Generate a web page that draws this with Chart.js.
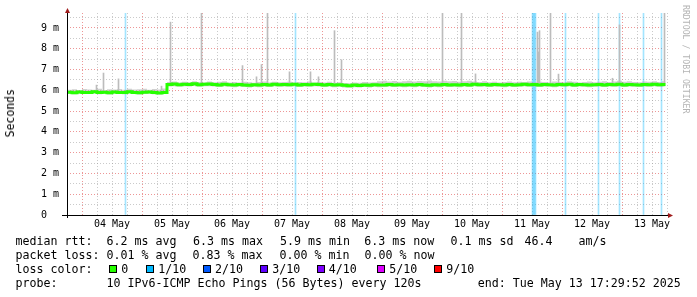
<!DOCTYPE html>
<html><head><meta charset="utf-8">
<script src="https://cdn.jsdelivr.net/npm/chart.js@4.4.1/dist/chart.umd.min.js"></script>
<style>
html,body{margin:0;padding:0;background:#fff;}
#wrap{position:relative;width:697px;height:297px;overflow:hidden;background:#fff;}
#c{position:absolute;left:0;top:0;}
.t{position:absolute;font-family:'DejaVu Sans Mono',monospace;font-size:11.63px;line-height:14px;white-space:pre;color:#000;}
.sq{position:absolute;width:8px;height:8px;box-sizing:border-box;border:1px solid #000;top:265px;}
#rrd{position:absolute;left:681px;top:5px;writing-mode:vertical-rl;font-family:'DejaVu Sans Mono',monospace;font-size:8.2px;line-height:10px;color:#b4b4b4;white-space:pre;}
#ytitle{position:absolute;left:4px;top:89px;writing-mode:vertical-rl;transform:rotate(180deg);font-family:'DejaVu Sans Mono',monospace;font-size:11.5px;line-height:13px;white-space:pre;color:#000;}
</style></head><body>
<div id="wrap">
<canvas id="c" width="697" height="297"></canvas>
<div id="ytitle">Seconds</div>
<div id="rrd">RRDTOOL / TOBI OETIKER</div>
<div id="legend"></div>
</div>
<script>
// hours relative to 04 May 00:00
const DAY_LABELS = ['04 May','05 May','06 May','07 May','08 May','09 May','10 May','11 May','12 May','13 May'];
const Y_LABELS = ['0','1 m','2 m','3 m','4 m','5 m','6 m','7 m','8 m','9 m'];

// median rtt (ms), one value every 2 hours from 03 May 18:00
const MEDIAN = [
 5.91,5.88,5.92,5.89,5.90,5.93,5.89,5.91,5.88,5.92,5.90,5.89,5.93,5.90,5.88,5.91,5.92,5.89,5.87,5.89,
 6.28,6.30,6.27,6.29,6.28,6.31,6.27,6.29,6.30,6.28,6.26,6.29,6.27,6.25,6.28,6.26,6.24,6.27,6.25,6.28,6.26,6.29,6.27,6.28,
 6.27,6.29,6.26,6.28,6.27,6.29,6.28,6.26,6.28,6.25,6.27,6.24,6.22,6.25,6.23,6.26,6.24,6.27,6.25,6.26,6.28,6.26,6.27,6.25,
 6.27,6.25,6.28,6.26,6.24,6.27,6.25,6.28,6.26,6.27,6.25,6.28,6.26,6.29,6.27,6.28,6.26,6.28,6.27,6.25,6.28,6.26,6.27,6.29,
 6.27,6.28,6.26,6.28,6.27,6.25,6.28,6.27,6.29,6.26,6.28,6.27,6.25,6.27,6.28,6.26,6.28,6.27,6.29,6.26,6.28,6.27,6.26,6.28,6.27,6.29,6.27,6.28,6.28
];
const SMOKE_HI = [
 6.03,6.05,6.02,6.06,6.04,6.03,6.07,6.02,6.05,6.04,6.06,6.03,6.08,6.04,6.05,6.07,6.03,6.06,6.04,6.09,
 6.40,6.42,6.38,6.41,6.39,6.43,6.40,6.38,6.42,6.39,6.41,6.44,6.38,6.40,6.37,6.41,6.39,6.36,6.40,6.42,6.38,6.41,6.39,6.40,
 6.41,6.38,6.40,6.39,6.42,6.37,6.40,6.38,6.41,6.36,6.39,6.35,6.34,6.38,6.36,6.40,6.37,6.39,6.44,6.46,6.42,6.45,6.41,6.44,
 6.46,6.42,6.45,6.43,6.47,6.44,6.42,6.46,6.43,6.45,6.41,6.44,6.46,6.42,6.40,6.43,6.39,6.41,6.38,6.40,6.42,6.39,6.41,6.40,
 6.42,6.39,6.41,6.40,6.38,6.42,6.40,6.39,6.43,6.41,6.38,6.40,6.42,6.39,6.41,6.44,6.40,6.42,6.46,6.41,6.43,6.40,6.39,6.42,6.41,6.44,6.40,6.43,6.42
];
const SMOKE_LO = [
 5.83,5.81,5.84,5.82,5.83,5.85,5.81,5.83,5.80,5.84,5.82,5.81,5.85,5.83,5.80,5.82,5.84,5.81,5.80,5.82,
 6.18,6.20,6.17,6.19,6.18,6.21,6.17,6.19,6.20,6.18,6.16,6.19,6.17,6.15,6.18,6.16,6.14,6.17,6.15,6.18,6.16,6.19,6.17,6.18,
 6.17,6.19,6.16,6.18,6.17,6.19,6.18,6.16,6.18,6.15,6.17,6.14,6.12,6.15,6.13,6.16,6.14,6.17,6.15,6.16,6.18,6.16,6.17,6.15,
 6.17,6.15,6.18,6.16,6.14,6.17,6.15,6.18,6.16,6.17,6.15,6.18,6.16,6.19,6.17,6.18,6.16,6.18,6.17,6.15,6.18,6.16,6.17,6.19,
 6.17,6.18,6.16,6.18,6.17,6.15,6.18,6.17,6.19,6.16,6.18,6.17,6.15,6.17,6.18,6.16,6.18,6.17,6.19,6.16,6.18,6.17,6.16,6.18,6.17,6.19,6.17,6.18,6.18
];
// single-ping outliers (smoke spikes)
const SPIKE_HOURS = [5.8,8.6,14.6,31.8,35.4,47.8,64.2,69.8,71.8,74.2,83.0,91.4,94.6,101.0,103.8,144.2,151.8,157.4,182.2,182.6,183.0,187.4,190.6,212.2,215.0,233.0];
const SPIKE_TOPS  = [6.25,6.83,6.55,6.20,9.28,12.0,7.19,6.65,7.24,12.0,6.89,6.89,6.65,8.87,7.47,12.0,12.0,6.79,8.80,7.85,8.87,12.0,6.78,6.58,9.15,12.0];
const SPIKE_BASES = [6.00,6.00,6.00,6.00,6.35,6.35,6.35,6.35,6.35,6.35,6.35,6.35,6.35,6.35,6.35,6.35,6.35,6.35,6.35,6.35,6.35,6.35,6.35,6.35,6.35,6.35];
// intervals with 1/10 packet loss
const LOSS_HOURS = [17.4,85.4,180.2,180.6,181.0,181.4,193.4,206.6,215.0,224.6,231.8];
const Y_MAX = 9.72;

const HOURS = MEDIAN.map((_, i) => Math.min(-6 + 2 * i, 233.4));
const pts = arr => arr.map((v, i) => ({x: HOURS[i], y: v}));

const RED = 'rgba(225,80,80,0.6)';
const GRAY = 'rgba(150,150,150,0.5)';

const axesPlugin = {
  id: 'rrdAxes',
  afterDraw(chart) {
    const {ctx, chartArea: a} = chart;
    ctx.save();
    ctx.strokeStyle = '#000'; ctx.lineWidth = 1;
    ctx.beginPath();
    ctx.moveTo(a.left + 0.5, a.top - 2); ctx.lineTo(a.left + 0.5, a.bottom + 3);
    ctx.moveTo(a.left - 5, a.bottom + 0.5); ctx.lineTo(a.right + 2, a.bottom + 0.5);
    ctx.stroke();
    ctx.fillStyle = '#a01c1c';
    ctx.beginPath(); ctx.moveTo(a.left - 2, a.top); ctx.lineTo(a.left + 3, a.top); ctx.lineTo(a.left + 0.5, a.top - 5); ctx.closePath(); ctx.fill();
    ctx.beginPath(); ctx.moveTo(a.right + 1, a.bottom - 2); ctx.lineTo(a.right + 1, a.bottom + 3); ctx.lineTo(a.right + 6, a.bottom + 0.5); ctx.closePath(); ctx.fill();
    ctx.restore();
  }
};

Chart.defaults.font.family = "'DejaVu Sans Mono', monospace";
Chart.defaults.color = '#000';

new Chart(document.getElementById('c'), {
  type: 'line',
  data: {
    datasets: [
      {label: 'median', data: pts(MEDIAN), borderColor: '#26ff00', borderWidth: 3, pointRadius: 0, stepped: 'before', fill: false, order: 1, clip: 0},
      {type: 'bar', label: 'spikes', data: SPIKE_HOURS.map((h, i) => ({x: h, y: [SPIKE_BASES[i], SPIKE_TOPS[i]]})), backgroundColor: '#bcbcbc', barThickness: 1, grouped: false, order: 2, clip: 0},
      {label: 'smoke lo', data: pts(SMOKE_LO), borderWidth: 0, borderColor: 'rgba(0,0,0,0)', pointRadius: 0, stepped: 'before', fill: false, order: 4, clip: 0},
      {label: 'smoke hi', data: pts(SMOKE_HI), borderWidth: 0, borderColor: 'rgba(0,0,0,0)', backgroundColor: 'rgba(170,170,170,0.55)', pointRadius: 0, stepped: 'before', fill: '-1', order: 3, clip: 0},
      {type: 'bar', label: 'loss', data: LOSS_HOURS.map(h => ({x: h, y: [0, Y_MAX]})), backgroundColor: 'rgba(0,184,255,0.36)', barThickness: 1, grouped: false, order: 5, clip: 0}
    ]
  },
  options: {
    responsive: false,
    devicePixelRatio: 1,
    animation: false,
    layout: {padding: {top: 13, right: 30, bottom: 0, left: 41}},
    plugins: {legend: {display: false}, tooltip: {enabled: false}},
    scales: {
      x: {
        type: 'linear', min: -6, max: 234, offset: false,
        afterFit: s => { s.height = 82; },
        grid: {offset: false, drawTicks: false, color: c => (c.tick && c.tick.value % 24 === 0) ? RED : GRAY},
        border: {display: false, dash: [1, 2]},
        ticks: {
          stepSize: 6, autoSkip: false, maxRotation: 0, minRotation: 0, padding: 3,
          font: {size: 10},
          callback: v => (v % 24 === 12) ? DAY_LABELS[(v - 12) / 24] : ''
        }
      },
      y: {
        type: 'linear', min: 0, max: Y_MAX,
        afterFit: s => { s.width = 26; },
        grid: {drawTicks: false, color: c => {
          const v = c.tick.value;
          if (Math.abs(v * 2 - Math.round(v * 2)) > 1e-6) return 'rgba(0,0,0,0)';
          return Number.isInteger(v) ? RED : GRAY;
        }},
        border: {display: false, dash: [1, 2]},
        title: {display: false},
        ticks: {
          stepSize: 0.5, includeBounds: false, autoSkip: false, crossAlign: 'far', padding: 7,
          font: {size: 10},
          callback: v => Number.isInteger(v) ? Y_LABELS[v] : ''
        }
      }
    }
  },
  plugins: [axesPlugin]
});

// legend (rrdtool style)
const LEGEND_ROWS = [
  [['median rtt:', 15.5], ['6.2 ms avg', 106.5], ['6.3 ms max', 193], ['5.9 ms min', 280], ['6.3 ms now', 364.3], ['0.1 ms sd', 450.5], ['46.4', 524.5], ['am/s', 578.5]],
  [['packet loss:', 15.5], ['0.01 % avg', 106.5], ['0.83 % max', 192.5], ['0.00 % min', 279.5], ['0.00 % now', 364.5]],
  [['loss color:', 15.5]],
  [['probe:', 15.5], ['10 IPv6-ICMP Echo Pings (56 Bytes) every 120s', 106.5], ['end: Tue May 13 17:29:52 2025', 477.7]]
];
const LOSS_LABELS = ['0', '1/10', '2/10', '3/10', '4/10', '5/10', '9/10'];
const LOSS_COLORS = ['#26ff00', '#00b8ff', '#0059ff', '#5e00ff', '#7e00ff', '#dd00ff', '#ff0000'];
const LOSS_SQ_X = [109, 146, 202.7, 260, 316.5, 377, 434];
const leg = document.getElementById('legend');
LEGEND_ROWS.forEach((row, r) => {
  row.forEach(([txt, x]) => {
    const s = document.createElement('div');
    s.className = 't'; s.textContent = txt;
    s.style.left = x + 'px'; s.style.top = (234 + 14 * r) + 'px';
    leg.appendChild(s);
  });
});
LOSS_LABELS.forEach((lab, i) => {
  const q = document.createElement('div');
  q.className = 'sq'; q.style.left = LOSS_SQ_X[i] + 'px'; q.style.background = LOSS_COLORS[i];
  leg.appendChild(q);
  const s = document.createElement('div');
  s.className = 't'; s.textContent = lab;
  s.style.left = (LOSS_SQ_X[i] + 12.3) + 'px'; s.style.top = (234 + 28) + 'px';
  leg.appendChild(s);
});
</script>
</body></html>
